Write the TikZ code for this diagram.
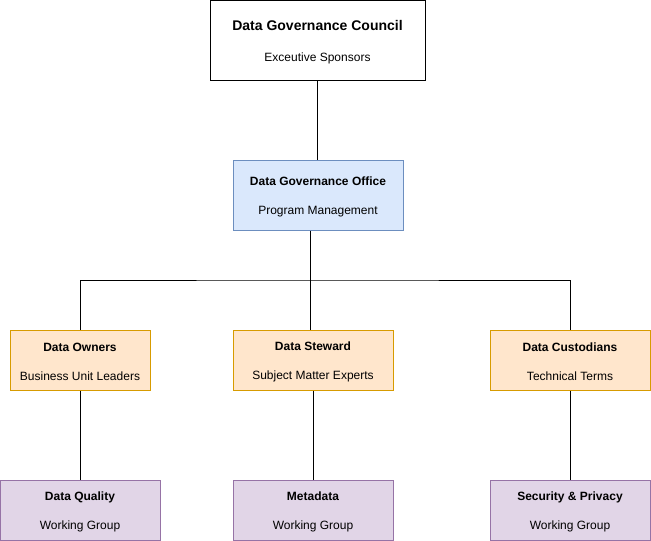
\documentclass[tikz,border=0pt]{standalone}
\usepackage{fontspec}
\setmainfont{Liberation Sans}
\usetikzlibrary{positioning}

\definecolor{officefill}{HTML}{DAE8FC}
\definecolor{officeline}{HTML}{6C8EBF}
\definecolor{rolefill}{HTML}{FFE6CC}
\definecolor{roleline}{HTML}{D79B00}
\definecolor{groupfill}{HTML}{E1D5E7}
\definecolor{groupline}{HTML}{9673A6}

% title and subtitle of a box
\newcommand{\boxlabel}[2]{\rule{0pt}{12pt}\textbf{#1}\\[15pt]#2}

\tikzset{
  box/.style={draw,rectangle,line width=1pt,align=center,inner sep=0pt,
    font=\fontsize{12}{14}\selectfont},
  council/.style={box,draw=black,fill=white,minimum width=215pt,minimum height=80pt},
  office/.style={box,draw=officeline,fill=officefill,minimum width=170pt,minimum height=70pt},
  role/.style={box,draw=roleline,fill=rolefill,minimum width=160pt,minimum height=60pt},
  group/.style={box,draw=groupline,fill=groupfill,minimum width=160pt,minimum height=60pt},
  link/.style={draw=black,line width=1pt}
}

\begin{document}
\begin{tikzpicture}[x=1pt,y=-1pt,on grid]
  \useasboundingbox (0,0) rectangle (651,541);
  \path
  node[council] (council) at (317.5,40)
    {\rule{0pt}{15pt}{\fontsize{14}{16}\selectfont\bfseries Data Governance Council}\\[17pt]Exceutive Sponsors}
  node[office] (office) at (318,195)
    {\boxlabel{Data Governance Office}{Program Management}}
  node[role,minimum width=140pt] (owners) at (80,360)
    {\boxlabel{Data Owners}{Business Unit Leaders}}
  node[role] (steward) [right=233pt of owners]
    {\boxlabel{Data Steward}{Subject Matter Experts}}
  node[role] (custodians) [right=257pt of steward]
    {\boxlabel{Data Custodians}{Technical Terms}}
  node[group] (quality) [below=150pt of owners]
    {\boxlabel{Data Quality}{Working Group}}
  node[group] (metadata) [below=150pt of steward]
    {\boxlabel{Metadata}{Working Group}}
  node[group] (security) [below=150pt of custodians]
    {\boxlabel{Security \& Privacy}{Working Group}}
  ;
  \coordinate (bus) at (310,280);

  % council to office
  \draw[link] (council.south) -- (council.south |- office.north);
  % office down to the three roles
  \draw[link] (office.south -| bus) -- (bus);
  \draw[link] (owners.north) |- (bus) -| (custodians.north);
  \draw[link] (bus) -- (steward.north -| bus);
  % roles to working groups
  \draw[link] (owners) -- (quality);
  \draw[link] (steward) -- (metadata);
  \draw[link] (custodians) -- (security);
\end{tikzpicture}
\end{document}
